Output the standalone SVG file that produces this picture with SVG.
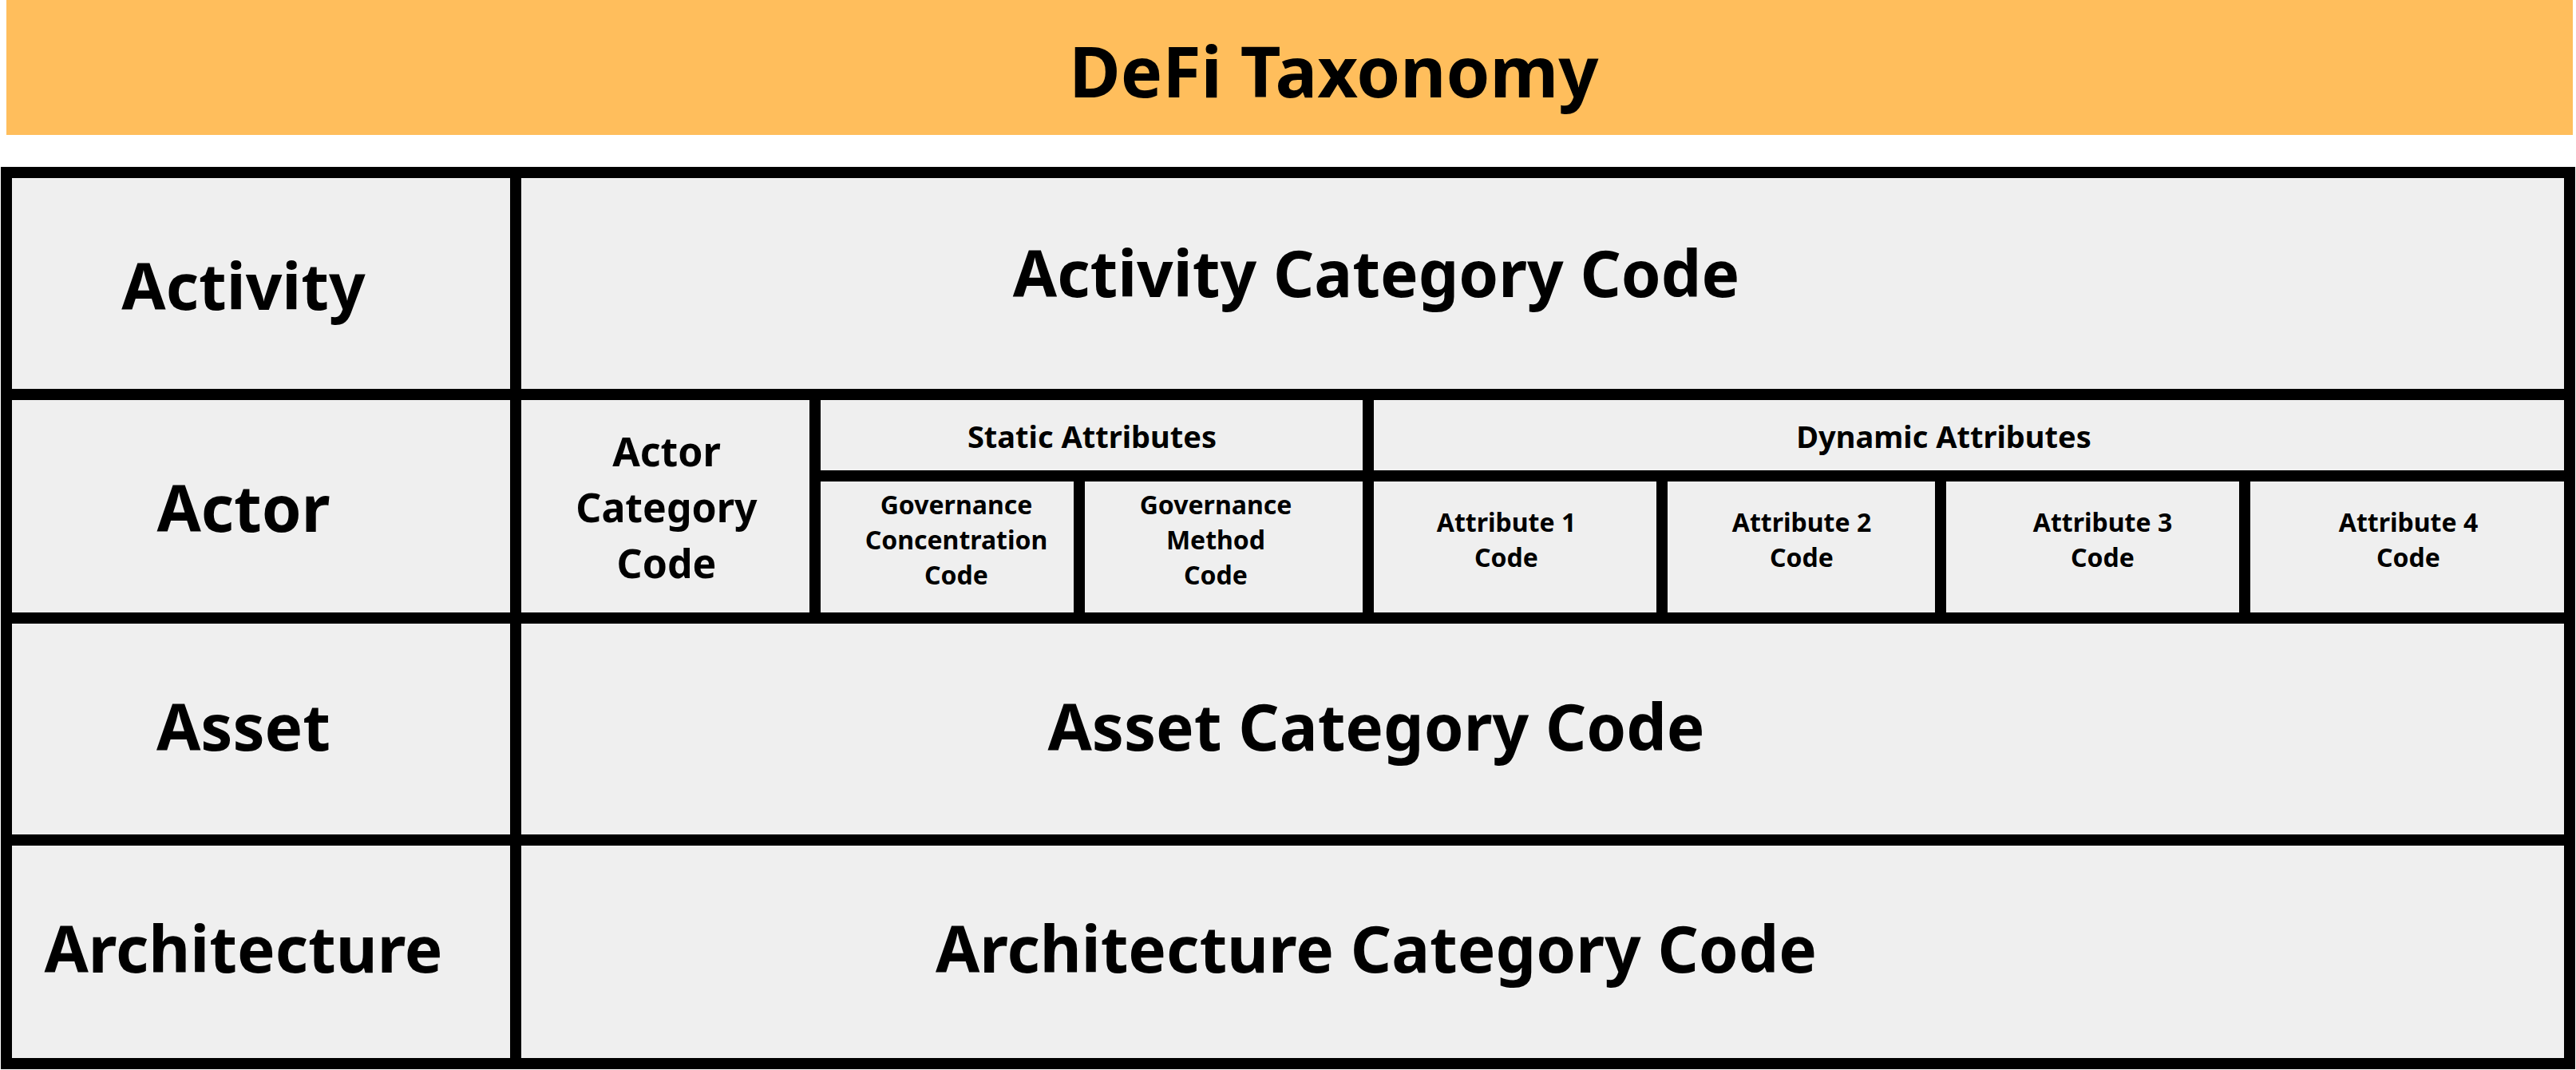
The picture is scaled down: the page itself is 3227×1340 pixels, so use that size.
<svg xmlns="http://www.w3.org/2000/svg" width="3227" height="1340" viewBox="0 0 3227 1340">
<style>
text{font-family:"Noto Sans","Open Sans","DejaVu Sans",sans-serif;font-weight:700;fill:#000;text-anchor:middle}
.l{font-size:80px}.m{font-size:50px}.s{font-size:38px}.xs{font-size:32px}
</style>
<rect width="3227" height="1340" fill="#fff"/>
<g id="banner"><rect x="8" y="0" width="3215" height="169" fill="#FFBE5C"/><text x="1671" y="122" style="font-size:88px">DeFi Taxonomy</text></g>
<rect x="8" y="216" width="3211" height="1116" fill="#efefef" stroke="#000" stroke-width="14"/>
<g id="connectors" stroke="#000" stroke-width="14">
<line x1="8" y1="494" x2="3219" y2="494"/><line x1="8" y1="774" x2="3219" y2="774"/><line x1="8" y1="1052" x2="3219" y2="1052"/>
<line x1="646" y1="216" x2="646" y2="1332"/>
<line x1="1021" y1="494" x2="1021" y2="774"/><line x1="1714" y1="494" x2="1714" y2="774"/>
<line x1="1021" y1="596" x2="3219" y2="596"/>
<line x1="1352" y1="596" x2="1352" y2="774"/><line x1="2082" y1="596" x2="2082" y2="774"/><line x1="2431" y1="596" x2="2431" y2="774"/><line x1="2812" y1="596" x2="2812" y2="774"/>
</g>
<g id="activity"><text class="l" x="305" y="388">Activity</text><text class="l" x="1724" y="372">Activity Category Code</text></g>
<g id="actor"><text class="l" x="305" y="666">Actor</text>
<text class="m" x="835" y="584">Actor</text><text class="m" x="835" y="654">Category</text><text class="m" x="835" y="724">Code</text>
<text class="s" x="1368" y="561">Static Attributes</text><text class="s" x="2435" y="561">Dynamic Attributes</text>
<text class="xs" x="1198" y="644">Governance</text><text class="xs" x="1198" y="688">Concentration</text><text class="xs" x="1198" y="732">Code</text>
<text class="xs" x="1523" y="644">Governance</text><text class="xs" x="1523" y="688">Method</text><text class="xs" x="1523" y="732">Code</text>
<text class="xs" x="1887" y="666">Attribute 1</text><text class="xs" x="1887" y="710">Code</text>
<text class="xs" x="2257" y="666">Attribute 2</text><text class="xs" x="2257" y="710">Code</text>
<text class="xs" x="2634" y="666">Attribute 3</text><text class="xs" x="2634" y="710">Code</text>
<text class="xs" x="3017" y="666">Attribute 4</text><text class="xs" x="3017" y="710">Code</text>
</g>
<g id="asset"><text class="l" x="305" y="940">Asset</text><text class="l" x="1724" y="940">Asset Category Code</text></g>
<g id="architecture"><text class="l" x="305" y="1218">Architecture</text><text class="l" x="1724" y="1218">Architecture Category Code</text></g>
</svg>
